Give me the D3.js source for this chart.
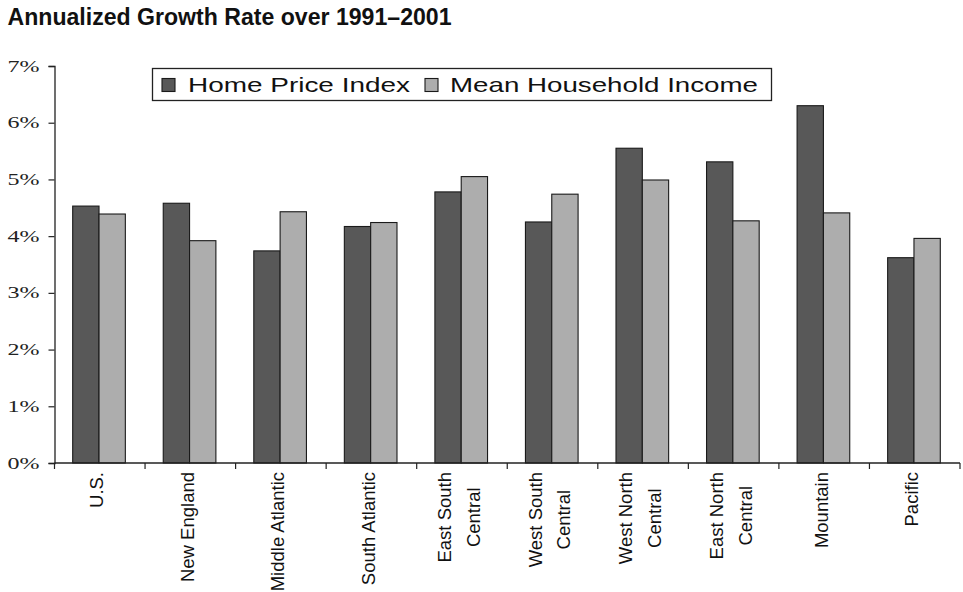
<!DOCTYPE html>
<html>
<head>
<meta charset="utf-8">
<script src="https://cdn.jsdelivr.net/npm/d3@7"></script>
<style>
  html, body { margin: 0; padding: 0; background: #fff; }
  svg { display: block; }
</style>
</head>
<body>
<svg id="chart" width="963" height="592"></svg>
<script>
// ---- data ----
const categories = ["U.S.", "New England", "Middle Atlantic", "South Atlantic", "East South\nCentral",
  "West South\nCentral", "West North\nCentral", "East North\nCentral", "Mountain", "Pacific"];
const seriesNames = ["Home Price Index", "Mean Household Income"];
const homePriceIndex = [4.53, 4.58, 3.74, 4.17, 4.78, 4.25, 5.55, 5.31, 6.30, 3.62];
const meanHouseholdIncome = [4.39, 3.92, 4.43, 4.24, 5.05, 4.74, 4.99, 4.27, 4.41, 3.96];
const yTicks = [0, 1, 2, 3, 4, 5, 6, 7];
const titleText = "Annualized Growth Rate over 1991\u20132001";

// ---- layout ----
const svg = d3.select("#chart");
const plotLeft = 54.5, plotRight = 960, plotTop = 66, plotBottom = 463;
const colors = ["#585858", "#adadad"];

const x0 = d3.scaleBand().domain(categories).range([plotLeft, plotRight]).padding(0);
const x1 = d3.scaleBand().domain(seriesNames).range([0, x0.bandwidth()])
  .paddingInner(0).paddingOuter(0.72).align(0.48);
const y = d3.scaleLinear().domain([0, 7]).range([plotBottom, plotTop]);

const table = categories.map((c, i) => ({ cat: c, vals: [homePriceIndex[i], meanHouseholdIncome[i]] }));

// title
svg.append("text")
  .attr("x", 7.5).attr("y", 25)
  .attr("font-family", "Liberation Sans, Arial, sans-serif")
  .attr("font-weight", "bold").attr("font-size", 23)
  .attr("textLength", 444).attr("lengthAdjust", "spacingAndGlyphs")
  .attr("fill", "#111")
  .text(titleText);

// bars
const groups = svg.append("g").selectAll("g").data(table).join("g")
  .attr("transform", d => `translate(${x0(d.cat)},0)`);
groups.selectAll("rect")
  .data(d => d.vals.map((v, k) => ({ key: seriesNames[k], v, k })))
  .join("rect")
  .attr("x", d => x1(d.key))
  .attr("width", x1.bandwidth())
  .attr("y", d => y(d.v))
  .attr("height", d => y(0) - y(d.v))
  .attr("fill", d => colors[d.k])
  .attr("stroke", "#1a1a1a").attr("stroke-width", 1.1);

// y axis
const yAxis = d3.axisLeft(y).tickValues(yTicks).tickSize(6).tickFormat(d => d + "%");
const gy = svg.append("g").attr("transform", `translate(${plotLeft},0)`).call(yAxis);
gy.select(".domain").attr("stroke", "#222").attr("stroke-width", 1.3);
gy.selectAll(".tick line").attr("stroke", "#222").attr("stroke-width", 1.2);
gy.selectAll(".tick text")
  .attr("x", -15)
  .attr("font-family", "Liberation Serif, Times New Roman, serif")
  .attr("font-size", 16).attr("fill", "#222")
  .attr("textLength", 32).attr("lengthAdjust", "spacingAndGlyphs");

// x axis (ticks between categories)
const gx = svg.append("g").attr("transform", `translate(0,${plotBottom})`);
gx.append("line").attr("x1", plotLeft).attr("x2", plotRight).attr("y1", 0).attr("y2", 0)
  .attr("stroke", "#222").attr("stroke-width", 1.3);
const boundaries = categories.map(c => x0(c) + x0.bandwidth()).concat([plotLeft]);
gx.selectAll("line.tk").data(boundaries).join("line").attr("class", "tk")
  .attr("x1", d => d).attr("x2", d => d).attr("y1", 0).attr("y2", 6)
  .attr("stroke", "#222").attr("stroke-width", 1.2);

// x labels (rotated, anchored at top, multi-line centered in block)
const labelTop = 472, lineGap = 29;
categories.forEach(c => {
  const lines = c.split("\n");
  const cx = x0(c) + x0.bandwidth() / 2 - 3;
  const g = svg.append("g").attr("transform", `translate(${cx},0) rotate(-90)`);
  const texts = lines.map((ln, i) => g.append("text")
    .attr("font-family", "Liberation Sans, Arial, sans-serif")
    .attr("font-size", 18.5).attr("fill", "#111")
    .attr("y", (i - (lines.length - 1) / 2) * lineGap)
    .attr("dy", "0.35em")
    .text(ln));
  if (lines.length === 1) {
    texts[0].attr("text-anchor", "end").attr("x", -labelTop);
  } else {
    const maxLen = d3.max(texts, t => t.node().getComputedTextLength());
    texts.forEach(t => t.attr("text-anchor", "middle").attr("x", -(labelTop + maxLen / 2)));
  }
});

// legend
const lg = svg.append("g");
lg.append("rect").attr("x", 152.5).attr("y", 68.5).attr("width", 619).attr("height", 32)
  .attr("fill", "#fff").attr("stroke", "#222").attr("stroke-width", 1.3);
const legendSpec = [
  { sx: 162, tx: 188, len: 222 },
  { sx: 425, tx: 450, len: 308 }
];
seriesNames.forEach((name, k) => {
  lg.append("rect").attr("x", legendSpec[k].sx).attr("y", 78.5).attr("width", 13).attr("height", 13)
    .attr("fill", colors[k]).attr("stroke", "#1a1a1a").attr("stroke-width", 1.1);
  lg.append("text").attr("x", legendSpec[k].tx).attr("y", 92)
    .attr("font-family", "Liberation Sans, Arial, sans-serif")
    .attr("font-size", 21).attr("fill", "#111")
    .attr("textLength", legendSpec[k].len).attr("lengthAdjust", "spacingAndGlyphs")
    .text(name);
});
</script>
</body>
</html>
